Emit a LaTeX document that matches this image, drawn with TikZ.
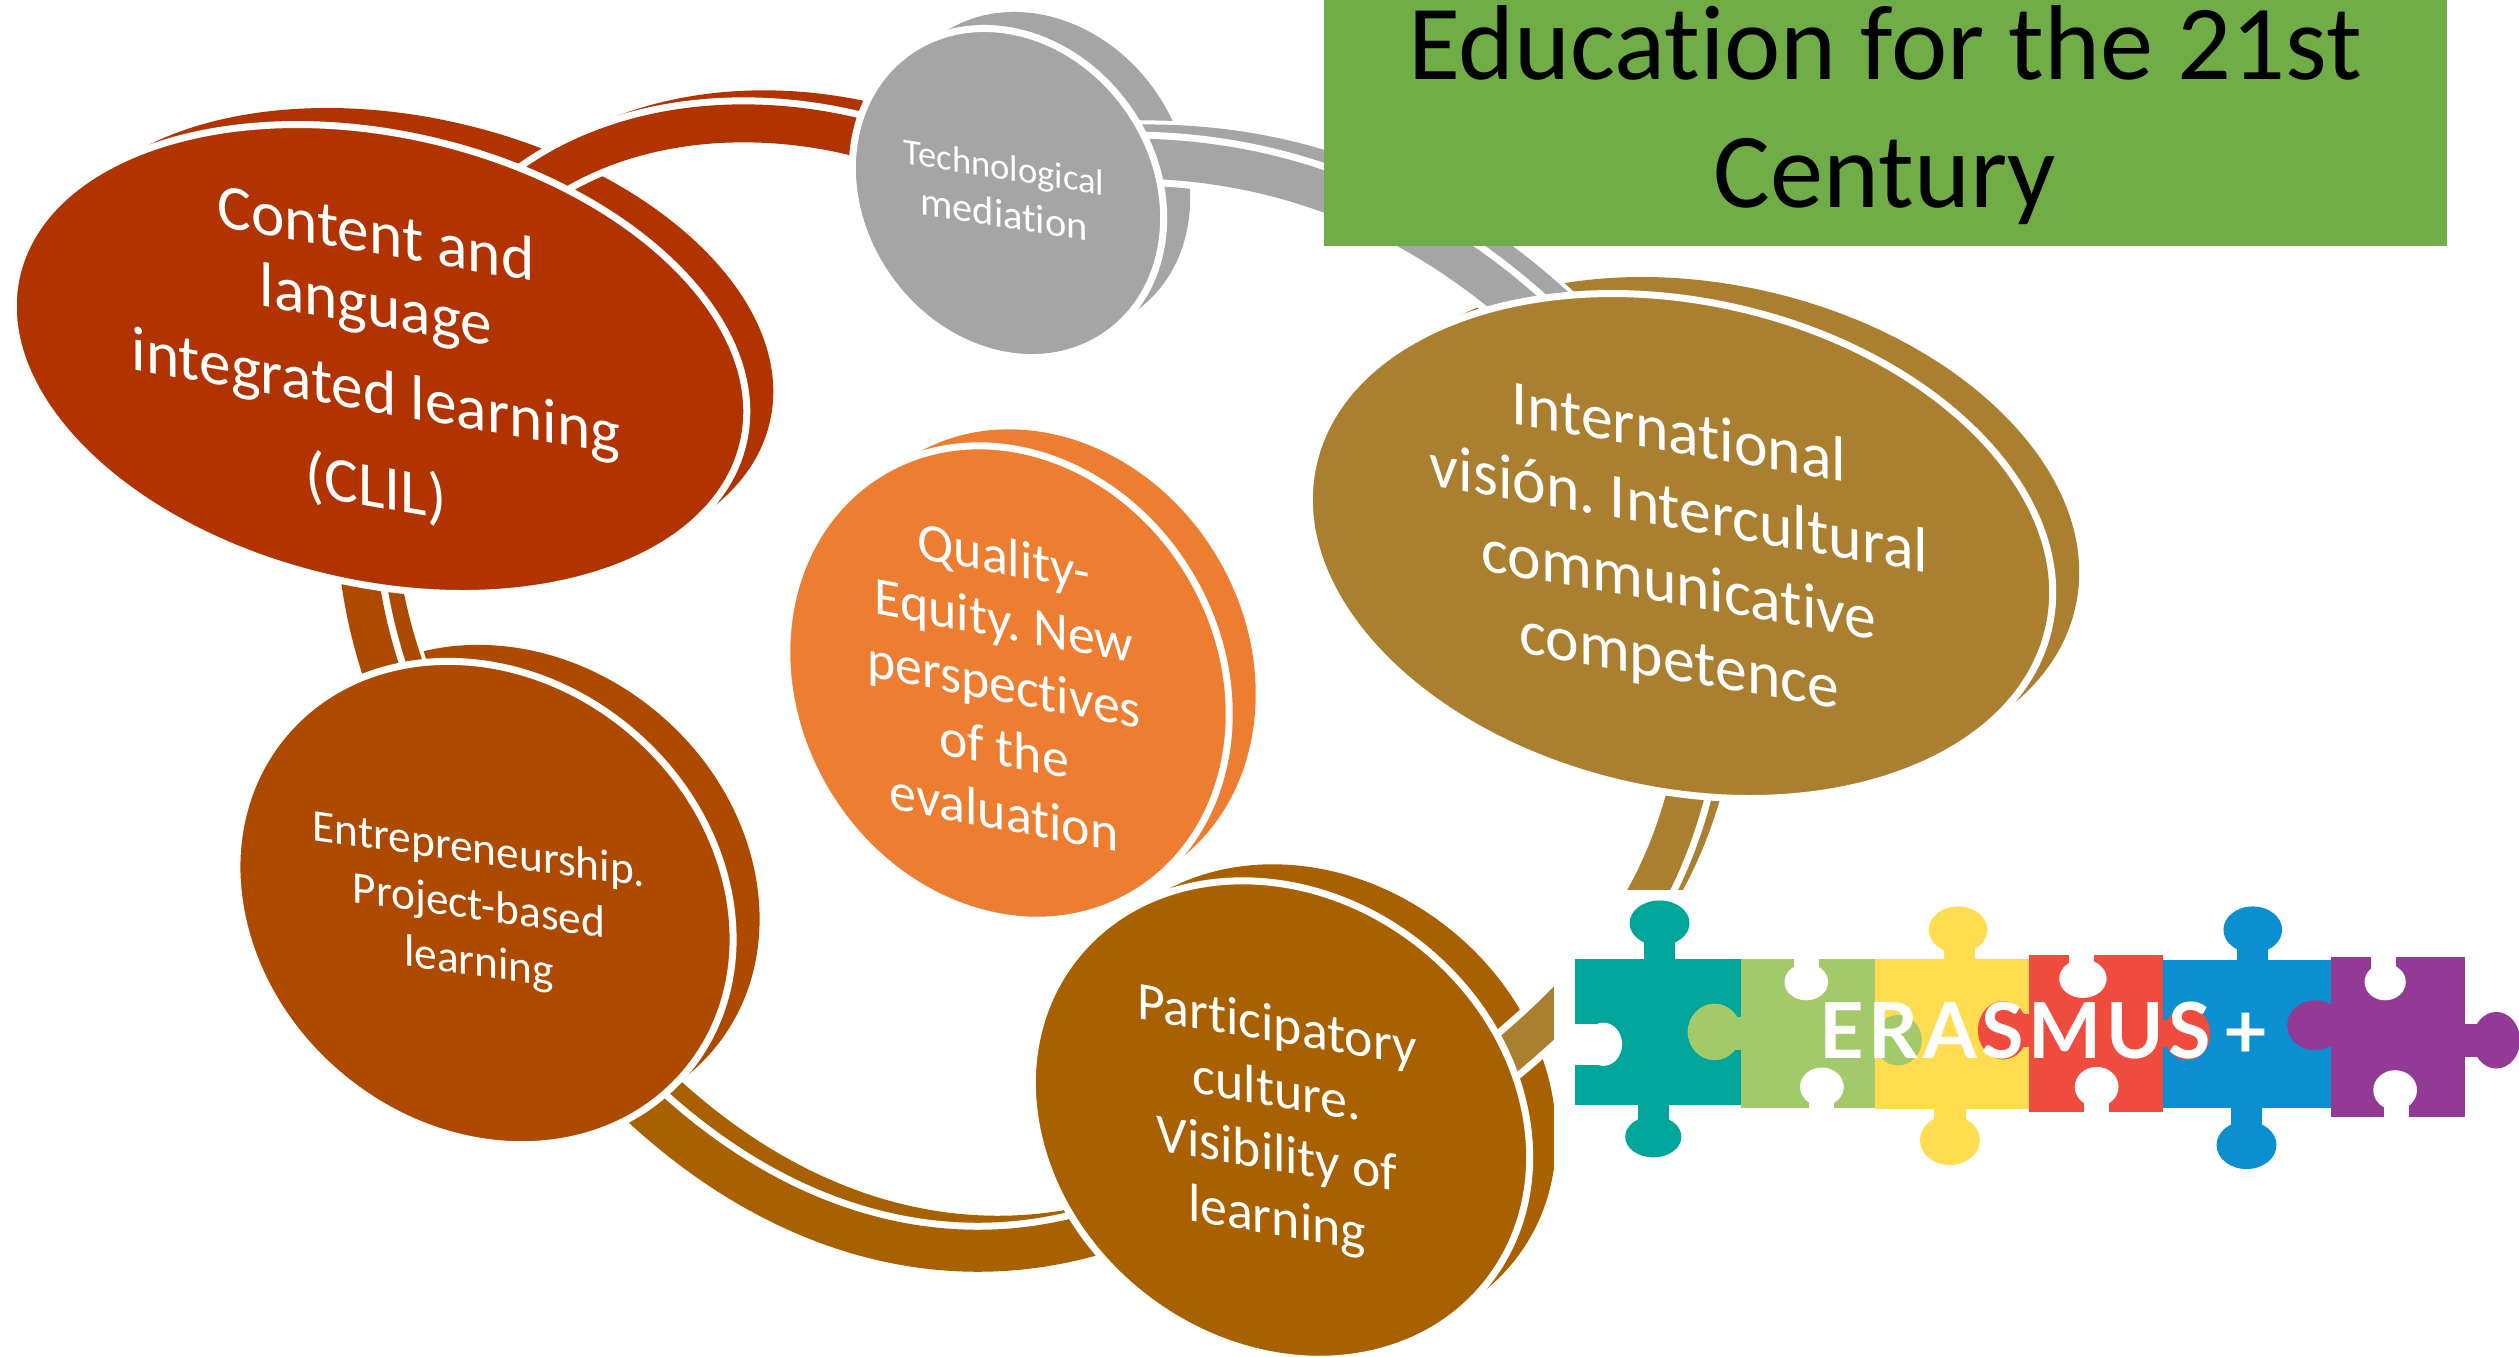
\documentclass[tikz,border=0pt]{standalone}
\usepackage{fontspec}
\setmainfont[Ligatures=NoCommon]{Carlito}
\newfontfamily\erasfont[LetterSpace=6]{Lato}
\usetikzlibrary{shapes.geometric}
\definecolor{cclil}{HTML}{B13400}
\definecolor{ctech}{HTML}{A5A5A5}
\definecolor{cintl}{HTML}{AA7F30}
\definecolor{cqual}{HTML}{ED7D31}
\definecolor{cpart}{HTML}{A86000}
\definecolor{centr}{HTML}{AE4A00}
\definecolor{cgreen}{HTML}{70AD47}
\definecolor{pteal}{HTML}{00A59B}
\definecolor{pgreen}{HTML}{A2C96A}
\definecolor{pyellow}{HTML}{FFDC50}
\definecolor{pred}{HTML}{EF4B3F}
\definecolor{pblue}{HTML}{0A8FD0}
\definecolor{ppurple}{HTML}{933A96}
\pgfdeclarelayer{backs}
\pgfdeclarelayer{bands}
\pgfdeclarelayer{top}
\pgfsetlayers{backs,bands,main,top}
\tikzset{
  blobshape/.style 2 args={ellipse,inner sep=0pt,outer sep=0pt,
    minimum width={(#1)*0.02cm},minimum height={(#2)*0.02cm}},
  lbl/.style={text=white,align=center,inner sep=0pt,transform shape},
  bandline/.style={line cap=butt,line join=round},
}
% name, x, y, a, b, rotation, colour
\newcommand{\blob}[7]{%
  \node[blobshape={#4+3.5}{#5+3.5},fill=#7,draw=white,line width=0.07cm,rotate=#6] (#1) at (#2,#3) {};
  \begin{pgfonlayer}{backs}
    \node[blobshape={#4}{#5},fill=#7,rotate=#6] (#1-back) at (#2+30,#3-20) {};
  \end{pgfonlayer}%
}
% colour, width, path
\newcommand{\band}[3]{%
  \begin{pgfonlayer}{bands}
    \draw[bandline,white,line width={(#2+8)*0.01cm},transform canvas={shift={(0.2cm,0.14cm)}}] #3;
    \draw[bandline,#1,line width={#2*0.01cm},transform canvas={shift={(0.2cm,0.14cm)}}] #3;
    \draw[bandline,white,line width={(#2+14)*0.01cm}] #3;
    \draw[bandline,#1,line width={#2*0.01cm}] #3;
  \end{pgfonlayer}%
}
\newcommand{\puz}[5]{\fill[#1] (#2,#3) ellipse [x radius=#4,y radius=#5];}
\begin{document}
\frenchspacing
\begin{tikzpicture}[x=0.01cm,y=-0.01cm]
\useasboundingbox (0,0) rectangle (2519,1356);
\begin{pgfonlayer}{backs}
  \fill[white] (0,0) rectangle (2519,1356);
\end{pgfonlayer}

\blob{clil}{380}{359}{369}{221}{-13}{cclil}
\blob{tech}{1008}{193}{169}{143}{-55}{ctech}
\blob{intl}{1681}{546}{373}{241}{-12.5}{cintl}
\blob{qual}{1008}{683}{242}{208}{-59}{cqual}
\blob{part}{1281}{1120}{259}{220}{-38}{cpart}
\blob{entr}{485}{903}{259}{222}{-40}{centr}

\band{cclil}{38}{(clil.center) -- (520,195) .. controls (620,115) and (770,105) .. (900,150) -- (tech.center)}
\band{ctech}{40}{(tech.center) -- (1080,160) .. controls (1230,150) and (1400,185) .. (1560,345) -- (intl.center)}
\band{cintl}{38}{(intl.center) -- (1694,760) .. controls (1668,880) and (1620,970) .. (1470,1085) -- (part.center)}
\band{cpart}{42}{(entr.center) -- (620,1085) .. controls (770,1236) and (950,1286) .. (1120,1226) -- (part.center)}
\band{centr}{38}{(clil.center) -- (356,540) .. controls (360,600) and (372,650) .. (395,710) -- (entr.center)}

\node[lbl,yslant=-0.175,font=\fontsize{18}{23.5}\selectfont] (tclil) at (376,363)
  {Content and\\[-3pt]language\\[1pt]integrated learning\\[3.5pt](CLIL)};
\node[lbl,yslant=-0.16,font=\fontsize{10.4}{13.7}\selectfont] (ttech) at (1004,191)
  {Technological\\{\fontsize{11.5}{13.7}\selectfont mediation}};
\node[lbl,yslant=-0.175,font=\fontsize{18.1}{21.6}\selectfont] (tintl) at (1679,550)
  {International\\visión. Intercultural\\communicative\\competence};
\node[lbl,yslant=-0.19,font=\fontsize{15.3}{18.2}\selectfont] (tqual) at (1004,684)
  {Quality-\\Equity. New\\perspectives\\of the\\evaluation};
\node[lbl,yslant=-0.17,font=\fontsize{15.3}{18.3}\selectfont] (tpart) at (1277,1125)
  {Participatory\\culture.\\Visibility of\\learning};
\node[lbl,yslant=-0.14,font=\fontsize{12.9}{16}\selectfont] (tentr) at (479,908)
  {Entrepreneurship.\\Project-based\\learning};

\begin{pgfonlayer}{top}
  \node[fill=cgreen,minimum width=11.23cm,minimum height=2.46cm,inner sep=0pt,outer sep=0pt] (title) at (1885.5,123) {};
  \node[text=black,align=center,inner sep=0pt,font=\fontsize{30.3}{36.5}\selectfont] (ttitle) at (1885,115)
    {Education for the 21st\\Century};
  \fill[white] (1554,890) rectangle (2519,1180);
  \begin{scope}[x=0.006244cm,y=-0.003333cm,shift={(15.4cm,-8.6cm)}]
    % teal
    \fill[pteal] (55,295) rectangle (320,735);
    \fill[pteal] (165,230) rectangle (215,300);
    \fill[pteal] (155,730) rectangle (205,790);
    \puz{pteal}{190}{188}{48}{68}
    \puz{pteal}{180}{830}{45}{62}
    % yellow
    \fill[pyellow] (535,295) rectangle (782,748);
    \fill[pyellow] (645,255) rectangle (695,300);
    \fill[pyellow] (630,745) rectangle (680,800);
    \puz{pyellow}{668}{208}{47}{70}
    \puz{pyellow}{655}{840}{48}{75}
    % blue
    \fill[pblue] (997,300) rectangle (1265,745);
    \fill[pblue] (1115,250) rectangle (1165,305);
    \fill[pblue] (1105,740) rectangle (1155,800);
    \puz{pblue}{1140}{208}{47}{70}
    \puz{pblue}{1130}{855}{48}{72}
    % green
    \fill[pgreen] (320,295) rectangle (535,745);
    \fill[pgreen] (300,470) rectangle (330,570);
    \fill[pgreen] (530,490) rectangle (560,585);
    \puz{pgreen}{278}{515}{43}{85}
    \puz{pgreen}{572}{540}{38}{76}
    % red
    \fill[pred] (782,285) rectangle (997,755);
    \fill[pred] (760,460) rectangle (790,560);
    \fill[pred] (990,480) rectangle (1020,560);
    \puz{pred}{740}{510}{40}{88}
    \puz{pred}{1035}{520}{37}{80}
    % purple
    \fill[ppurple] (1265,290) rectangle (1480,770);
    \fill[ppurple] (1475,490) rectangle (1510,590);
    \fill[ppurple] (1225,455) rectangle (1270,535);
    \puz{ppurple}{1240}{495}{45}{75}
    \puz{ppurple}{1530}{540}{38}{85}
    % notches
    \fill[white] (55,490) -- (100,490) -- (100,615) -- (55,615) -- cycle;
    \puz{white}{100}{552}{30}{65}
    \fill[white] (405,280) rectangle (445,330);
    \puz{white}{425}{365}{35}{55}
    \fill[white] (430,700) rectangle (470,750);
    \puz{white}{450}{680}{35}{58}
    \fill[white] (845,275) rectangle (885,320);
    \puz{white}{868}{355}{38}{58}
    \fill[white] (870,710) rectangle (910,760);
    \puz{white}{890}{680}{35}{60}
    \fill[white] (1330,280) rectangle (1370,330);
    \puz{white}{1352}{365}{33}{55}
    \fill[white] (1350,720) rectangle (1390,775);
    \puz{white}{1368}{690}{35}{60}
  \end{scope}
  \node[text=white,inner sep=0pt,font=\erasfont\bfseries\fontsize{22}{24}\selectfont] (terasmus) at (2044,1030) {ERASMUS\,+};
\end{pgfonlayer}
\end{tikzpicture}
\end{document}
